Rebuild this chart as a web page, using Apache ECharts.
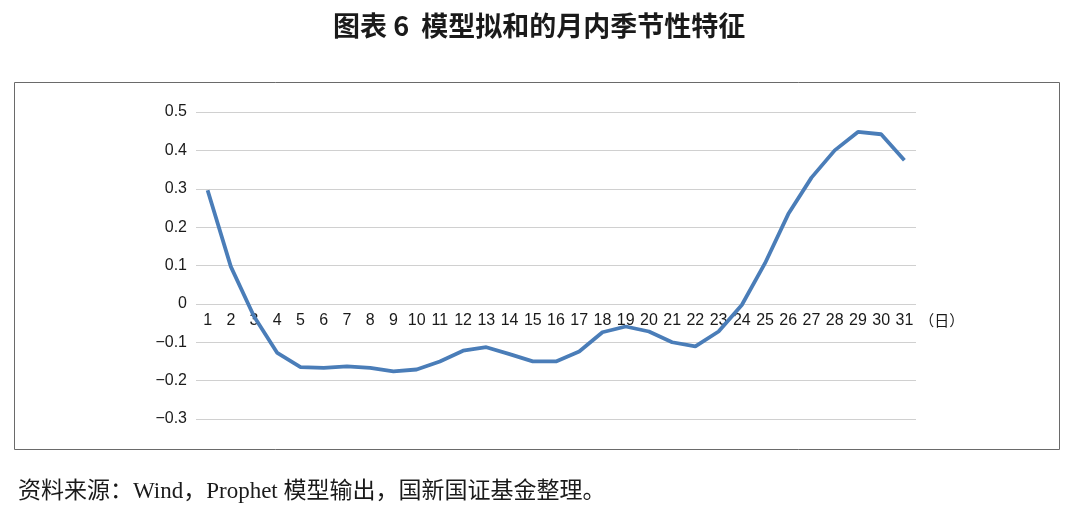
<!DOCTYPE html>
<html><head><meta charset="utf-8">
<script src="https://cdn.jsdelivr.net/npm/echarts@6/dist/echarts.min.js"></script>
<style>html,body{margin:0;padding:0;background:#fff}#c{width:1086px;height:509px}</style>
</head><body><div id="c"></div>
<script>
const days = ['1','2','3','4','5','6','7','8','9','10','11','12','13','14','15','16','17','18','19','20','21','22','23','24','25','26','27','28','29','30','31'];
const seasonal = [0.296,0.097,-0.033,-0.128,-0.165,-0.167,-0.163,-0.167,-0.176,-0.171,-0.150,-0.122,-0.113,-0.131,-0.150,-0.150,-0.124,-0.074,-0.059,-0.072,-0.100,-0.111,-0.072,-0.003,0.106,0.234,0.329,0.400,0.448,0.442,0.374];
const yMin = -0.3, yMax = 0.5, yStep = 0.1;
const titleText = '图表 6  模型拟和的月内季节性特征';
const sourceText = '资料来源：Wind，Prophet 模型输出，国新国证基金整理。';
const xUnit = '（日）';

const gridTop = 112, gridBottom = 90, H = 509;
const plotH = H - gridTop - gridBottom;
const zeroOffset = -Math.round(plotH * (0 - yMin) / (yMax - yMin));

const serif = '"Liberation Serif", "Noto Sans CJK SC", serif';

const chart = echarts.init(document.getElementById('c'));
chart.setOption({
  animation: false,
  backgroundColor: '#fff',
  title: {
    text: titleText, left: 328, top: 7,
    textStyle: {fontFamily: '"Noto Sans CJK SC"', fontWeight: 'bold', fontSize: 27, color: '#1a1a1a'}
  },
  grid: {left: 196, right: 170, top: gridTop, bottom: gridBottom, containLabel: false},
  xAxis: {
    type: 'category', data: days, boundaryGap: true, position: 'bottom', offset: zeroOffset,
    axisLine: {show: false, onZero: false},
    axisTick: {show: false},
    axisLabel: {interval: 0, margin: 9, fontSize: 16, color: '#1a1a1a', fontFamily: '"Liberation Sans", Arial, sans-serif'},
    name: xUnit, nameLocation: 'end', nameGap: 3,
    nameTextStyle: {fontSize: 15, color: '#1a1a1a', verticalAlign: 'top', padding: [9, 0, 0, 0], fontFamily: '"Noto Sans CJK SC"'}
  },
  yAxis: {
    type: 'value', min: yMin, max: yMax, interval: yStep,
    axisLine: {show: false}, axisTick: {show: false},
    splitLine: {lineStyle: {color: '#d0d0d0', width: 1}},
    axisLabel: {
      margin: 9, fontSize: 16, color: '#1a1a1a', fontFamily: '"Liberation Sans", Arial, sans-serif',
      formatter: v => { const r = Math.round(v * 10) / 10; if (r === 0) return '0'; return r < 0 ? '\u2212' + Math.abs(r).toFixed(1) : r.toFixed(1); }
    }
  },
  series: [{
    type: 'line', data: seasonal, showSymbol: false, symbol: 'none',
    lineStyle: {color: '#4a7db8', width: 3.8}
  }],
  graphic: [
    {type: 'rect', shape: {x: 14.5, y: 82.5, width: 1045, height: 367}, style: {fill: 'none', stroke: '#6a6a6a', lineWidth: 1}, z: -1},
    {type: 'text', left: 18, top: 480, style: {text: sourceText, fontSize: 23, fill: '#1a1a1a', fontFamily: serif}}
  ]
});
</script></body></html>
